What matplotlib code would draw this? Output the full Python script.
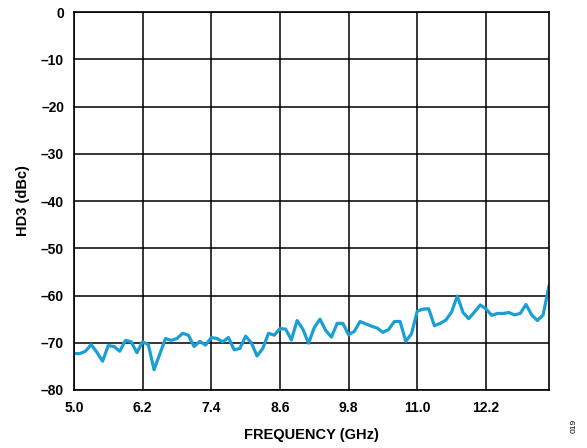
import matplotlib
matplotlib.use('Agg')
import matplotlib.pyplot as plt

plt.rcParams['font.family'] = ['Liberation Sans', 'DejaVu Sans']

freq = [5.0, 5.1, 5.2, 5.3, 5.4, 5.5, 5.6, 5.7, 5.8, 5.9,
        6.0, 6.1, 6.2, 6.3, 6.4, 6.5, 6.6, 6.7, 6.8, 6.9,
        7.0, 7.1, 7.2, 7.3, 7.4, 7.5, 7.6, 7.7, 7.8, 7.9,
        8.0, 8.1, 8.2, 8.3, 8.4, 8.5, 8.6, 8.7, 8.8, 8.9,
        9.0, 9.1, 9.2, 9.3, 9.4, 9.5, 9.6, 9.7, 9.8, 9.9,
        10.0, 10.1, 10.2, 10.3, 10.4, 10.5, 10.6, 10.7, 10.8, 10.9,
        11.0, 11.1, 11.2, 11.3, 11.4, 11.5, 11.6, 11.7, 11.8, 11.9,
        12.0, 12.1, 12.2, 12.3, 12.4, 12.5, 12.6, 12.7, 12.8, 12.9,
        13.0, 13.1, 13.2, 13.3]

hd3 = [-72.3, -72.3, -71.8, -70.4, -72.0, -73.9, -70.6, -70.8, -71.8, -69.5,
       -69.8, -72.1, -69.8, -70.4, -75.7, -72.4, -69.1, -69.5, -69.1, -68.0,
       -68.4, -70.8, -69.7, -70.5, -68.9, -69.1, -69.8, -68.9, -71.5, -71.2,
       -68.6, -70.0, -72.8, -71.2, -68.0, -68.4, -67.0, -67.1, -69.4, -65.3,
       -67.1, -70.1, -66.8, -65.0, -67.4, -68.8, -65.9, -65.9, -68.3, -67.6,
       -65.5, -66.0, -66.5, -66.9, -67.8, -67.2, -65.5, -65.5, -69.7, -68.1,
       -63.3, -62.9, -62.8, -66.4, -65.9, -65.2, -63.5, -60.1, -63.6, -64.9,
       -63.5, -62.0, -62.8, -64.2, -63.8, -63.8, -63.6, -64.1, -63.8, -61.9,
       -64.1, -65.3, -64.1, -58.1]

xticks = [5.0, 6.2, 7.4, 8.6, 9.8, 11.0, 12.2]
yticks = [0, -10, -20, -30, -40, -50, -60, -70, -80]

fig = plt.figure(figsize=(5.87, 4.48), dpi=100)
ax = fig.add_axes([0.126, 0.1295, 0.809, 0.8435])

ax.plot(freq, hd3, color='#1a9fd4', linewidth=2.3, solid_joinstyle='round')

ax.set_xlim(5.0, 13.3)
ax.set_ylim(-80, 0)
ax.set_xticks(xticks)
ax.set_xticklabels(['%.1f' % t for t in xticks])
ax.set_yticks(yticks)
ax.set_yticklabels(['0' if t == 0 else '\u2013%d' % -t for t in yticks])
ax.grid(True, color='black', linewidth=1.1)
ax.tick_params(axis='x', length=0, labelsize=10, pad=8)
ax.tick_params(axis='y', length=0, labelsize=10, pad=7)
for lbl in ax.get_xticklabels() + ax.get_yticklabels():
    lbl.set_fontweight('bold')
for s in ax.spines.values():
    s.set_linewidth(1.2)

ax.set_xlabel('FREQUENCY (GHz)', fontsize=10.5, fontweight='bold', labelpad=9)
ax.set_ylabel('HD3 (dBc)', fontsize=10.5, fontweight='bold', labelpad=8)

fig.text(0.978, 0.05, '019', fontsize=6, rotation=90, ha='center', va='center')

fig.savefig('out.png', dpi=100)
